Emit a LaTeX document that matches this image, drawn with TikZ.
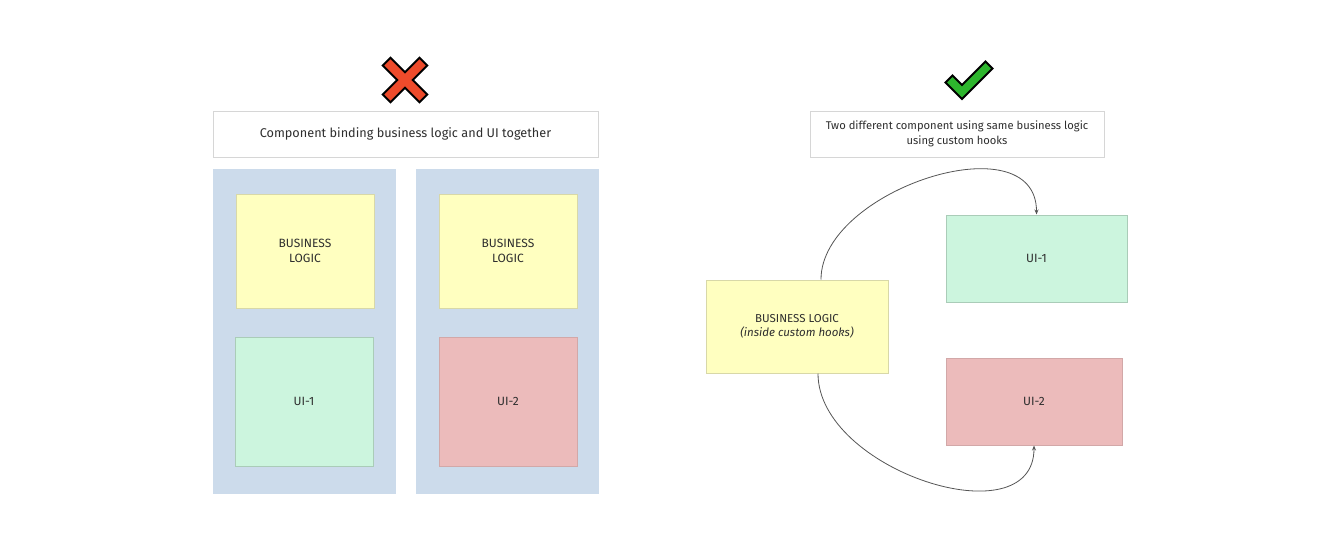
\documentclass[tikz,border=0pt]{standalone}
\usepackage{fontspec}
\setmainfont{Fira Sans}
\usetikzlibrary{arrows.meta,calc}
\definecolor{panelblue}{HTML}{CCDBEB}
\definecolor{bizfill}{HTML}{FFFFC0}
\definecolor{bizdraw}{HTML}{D8D8A8}
\definecolor{uigreen}{HTML}{CCF5DE}
\definecolor{uigreendraw}{HTML}{AACCB8}
\definecolor{uipink}{HTML}{ECBBBB}
\definecolor{uipinkdraw}{HTML}{D2A8A8}
\definecolor{titledraw}{HTML}{D6D6D6}
\definecolor{txt}{HTML}{2E2E2E}
\definecolor{xred}{HTML}{EE4B2B}
\definecolor{okgreen}{HTML}{2DB52D}
\definecolor{curve}{HTML}{555555}
\tikzset{
  sz/.style 2 args={minimum width=#1pt, minimum height=#2pt},
  base/.style={rectangle, inner sep=0pt, align=center, text=txt, line width=1pt},
  titlebox/.style={base, fill=white, draw=titledraw},
  panel/.style={base, fill=panelblue, draw=panelblue},
  boxfont/.style={font=\fontsize{12}{15.5}\selectfont},
  biz/.style={base, boxfont, fill=bizfill, draw=bizdraw},
  uione/.style={base, boxfont, fill=uigreen, draw=uigreendraw},
  uitwo/.style={base, boxfont, fill=uipink, draw=uipinkdraw},
  link/.style={draw=curve, line width=0.8pt, -{Stealth[length=5pt,width=4pt]}},
  symbolmark/.style={draw=black, line width=2pt, line join=miter}
}
\begin{document}
\begin{tikzpicture}[x=1pt,y=-1pt]
\useasboundingbox[fill=white] (0,0) rectangle (1325,547);

% left side
\draw[symbolmark, fill=xred, shift={(405,80)}, rotate=45]
  (5.5,5.5) -- (26,5.5) -- (26,-5.5) -- (5.5,-5.5) -- (5.5,-26) -- (-5.5,-26)
  -- (-5.5,-5.5) -- (-26,-5.5) -- (-26,5.5) -- (-5.5,5.5) -- (-5.5,26) -- (5.5,26) -- cycle;
\node[titlebox, sz={385}{46}, font=\fontsize{12.7}{15}\selectfont] (lt) at (405.5,134)
  {Component binding business logic and UI together};
\node[panel, sz={182}{324}] (p1) at (304,331) {};
\node[panel, sz={182}{324}] (p2) at (507,331) {};
\node[biz, sz={138}{114}] (bl1) at (305,251) {BUSINESS\\LOGIC};
\node[biz, sz={138}{114}] (bl2) at (508,251) {BUSINESS\\LOGIC};
\node[uione, sz={138}{129}] (ui1a) at (304,401.5) {UI-1};
\node[uitwo, sz={138}{129}] (ui2a) at (508,401.5) {UI-2};

% right side
\draw[symbolmark, fill=okgreen]
  (945.5,82.5) -- (962,99) -- (992.5,68.5) -- (985.5,61.5) -- (962,85) -- (952.5,75.5) -- cycle;
\node[titlebox, sz={294}{46}, font=\fontsize{11.2}{15}\selectfont] (rt) at (957,134)
  {Two different component using same business logic\\using custom hooks};
\node[biz, sz={182}{93}, font=\fontsize{11.5}{14.5}\selectfont] (bl) at (797,326.5)
  {BUSINESS LOGIC\\\textit{(inside custom hooks)}};
\node[uione, sz={181}{87}] (ui1) at (1036.5,258.5) {UI-1};
\node[uitwo, sz={176}{87}] (ui2) at (1034,401.5) {UI-2};

\draw[link] ($(bl.north)+(24,0)$) .. controls +(0,-90) and +(0,-94) .. (ui1.north);
\draw[link] ($(bl.south)+(21,0)$) .. controls +(0,97) and +(0,94) .. (ui2.south);
\end{tikzpicture}
\end{document}
